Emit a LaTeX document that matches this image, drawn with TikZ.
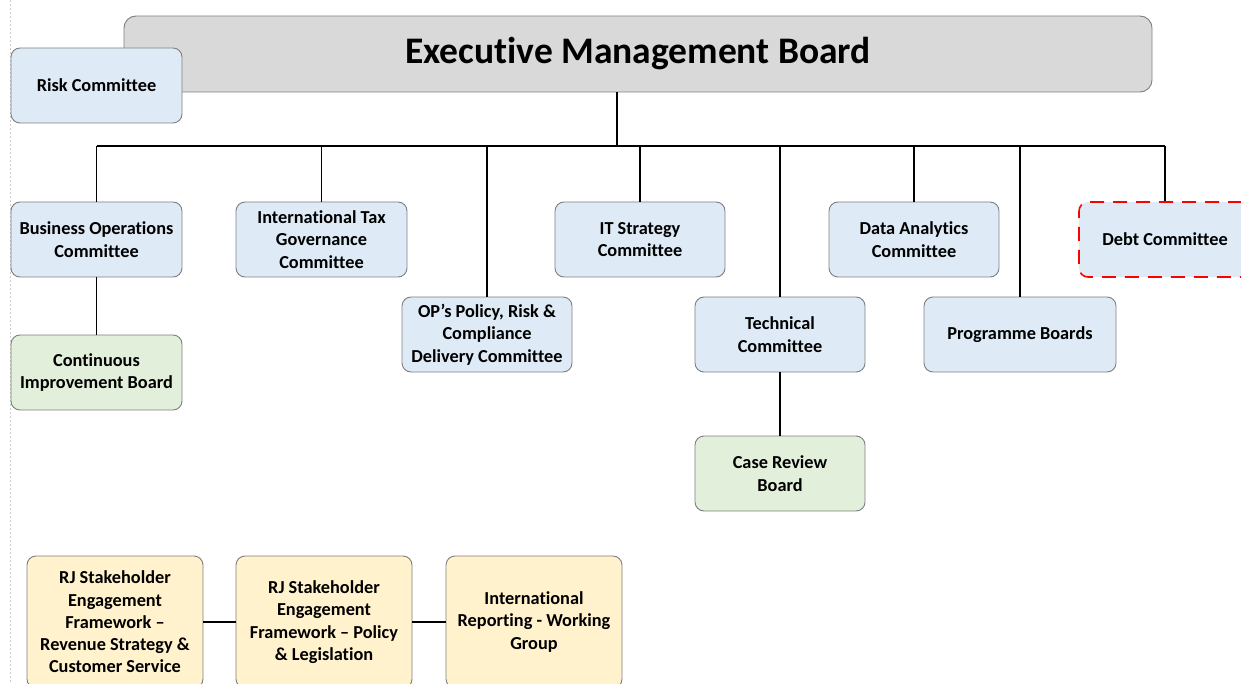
\documentclass[tikz,border=0pt]{standalone}
\usepackage{fontspec}
\setmainfont{Carlito}[Ligatures=NoCommon]
\usepackage{tikz}

\definecolor{boardgray}{HTML}{D9D9D9}
\definecolor{cttblue}{HTML}{DEEAF6}
\definecolor{subgreen}{HTML}{E2EFDA}
\definecolor{rjyellow}{HTML}{FFF2CC}
\definecolor{edgegray}{HTML}{7F7F7F}

\tikzset{
	box/.style={draw=edgegray, line width=0.9pt, rounded corners=9pt, align=center,
		inner sep=0pt, minimum width=171pt, minimum height=75pt,
		font=\bfseries\fontsize{18.3}{22.3}\selectfont},
	ctt/.style={box, fill=cttblue},
	sub/.style={box, fill=subgreen},
	rj/.style={box, fill=rjyellow, minimum width=176pt, minimum height=132pt},
	link/.style={draw=black, line width=1.2pt}
}

\begin{document}
\begin{tikzpicture}[x=1pt,y=-1pt]
	\useasboundingbox (0,0) rectangle (1241,684);
	\draw[gray!40, dash pattern=on 2pt off 2pt] (10,0) -- (10,684);

	% top board and the committees under it
	\node (emb) [box, fill=boardgray, minimum width=1028pt, minimum height=76pt, rounded corners=12pt,
		font=\bfseries\fontsize{37.5}{44}\selectfont] at (638,54) {Executive Management Board};
	\node (risk) [ctt] at (96.5,85.5) {Risk Committee};
	\node (busops) [ctt] at (96.5,239.5) {Business Operations\\Committee};
	\node (inttax) [ctt] at (321.5,239.5) {International Tax\\Governance\\Committee};
	\node (ops) [ctt, minimum width=170pt] at (487,334.5) {OP’s Policy, Risk \&\\Compliance\\Delivery Committee};
	\node (itstrat) [ctt, minimum width=170pt] at (640,239.5) {IT Strategy\\Committee};
	\node (tech) [ctt, minimum width=170pt] at (780,334.5) {Technical\\Committee};
	\node (data) [ctt, minimum width=170pt] at (914,239.5) {Data Analytics\\Committee};
	\node (prog) [ctt, minimum width=192pt] at (1020,334.5) {Programme Boards};
	\node (debt) [ctt, draw=red, dashed, dash pattern=on 14pt off 9pt, line width=1.6pt,
		minimum width=172pt] at (1165,239.5) {Debt Committee};
	\node (cib) [sub] at (96.5,372.5) {Continuous\\Improvement Board};
	\node (crb) [sub, minimum width=170pt] at (780,473.5) {Case Review\\Board};

	% stakeholder groups along the bottom
	\node (rjrev) [rj] at (115,622) {RJ Stakeholder\\Engagement\\Framework –\\Revenue Strategy \&\\Customer Service};
	\node (rjpol) [rj] at (324,622) {RJ Stakeholder\\Engagement\\Framework – Policy\\\& Legislation};
	\node (irwg) [rj] at (534,622) {International\\Reporting - Working\\Group};

	\coordinate (hub) at (617,146);
	\draw[link] (emb.south -| hub) -- (hub);
	\draw[link] (hub -| busops.north) -- (hub -| debt.north);
	\foreach \n in {busops,inttax,ops,itstrat,tech,data,prog,debt}
		\draw[link] (hub -| \n.north) -- (\n.north);
	\draw[link] (busops) -- (cib);
	\draw[link] (tech) -- (crb);
	\draw[link] (rjrev) -- (rjpol);
	\draw[link] (rjpol) -- (irwg);
\end{tikzpicture}
\end{document}
